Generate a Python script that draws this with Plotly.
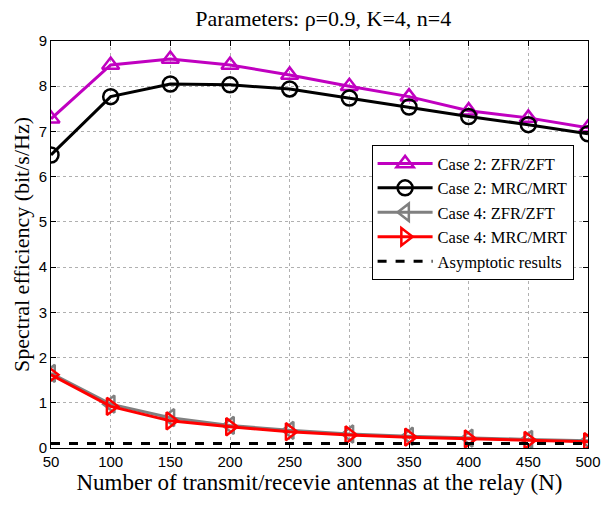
import plotly.graph_objects as go

N = [50, 100, 150, 200, 250, 300, 350, 400, 450, 500]
case2_zf = [7.28, 8.47, 8.6, 8.47, 8.25, 8.0, 7.77, 7.46, 7.3, 7.08]
case2_mrc = [6.48, 7.77, 8.05, 8.03, 7.94, 7.74, 7.54, 7.33, 7.15, 6.95]
case4_zf = [1.65, 0.97, 0.67, 0.5, 0.39, 0.31, 0.26, 0.22, 0.19, 0.16]
case4_mrc = [1.62, 0.92, 0.6, 0.47, 0.36, 0.29, 0.24, 0.2, 0.17, 0.14]
asym = [0.1] * len(N)

names = ["Case 2: ZFR/ZFT", "Case 2: MRC/MRT", "Case 4: ZFR/ZFT",
         "Case 4: MRC/MRT", "Asymptotic results"]
x_ticks = [50, 100, 150, 200, 250, 300, 350, 400, 450, 500]
y_ticks = [0, 1, 2, 3, 4, 5, 6, 7, 8, 9]

serif = "Liberation Serif, Times New Roman, serif"
sans = "Liberation Sans, Arial, sans-serif"

fig = go.Figure()

def add(y, name, color, symbol):
    fig.add_trace(go.Scatter(
        x=N, y=y, name=name, mode="lines+markers",
        line=dict(color=color, width=3),
        marker=dict(symbol=symbol, size=15, color=color,
                    line=dict(color=color, width=2.5)),
    ))

add(case2_zf, names[0], "#c000c0", "triangle-up-open")
add(case2_mrc, names[1], "black", "circle-open")
add(case4_zf, names[2], "#808080", "triangle-left-open")
add(case4_mrc, names[3], "red", "triangle-right-open")
fig.add_trace(go.Scatter(
    x=N, y=asym, name=names[4], mode="lines",
    line=dict(color="black", width=3, dash="dash"),
))

fig.update_layout(
    width=602, height=506,
    margin=dict(l=51, r=14, t=41, b=58, autoexpand=False),
    paper_bgcolor="white", plot_bgcolor="white",
    title=dict(text="Parameters: \u03c1=0.9, K=4, n=4", x=0.537, xanchor="center",
               y=0.964, yanchor="middle",
               font=dict(family=serif, size=22, color="black")),
    legend=dict(x=0.597, y=0.744, xanchor="left", yanchor="top",
                bgcolor="white", bordercolor="black", borderwidth=1,
                font=dict(family=serif, size=16.5, color="black"),
                tracegroupgap=0, itemwidth=55),
    showlegend=True,
)

axis_common = dict(
    showline=True, linecolor="black", linewidth=1, mirror="ticks",
    ticks="inside", ticklen=5, tickcolor="black",
    showgrid=True, gridcolor="#b0b0b0", griddash="dot", gridwidth=1,
    zeroline=False, automargin=False,
    tickfont=dict(family=sans, size=15, color="black"),
)

fig.update_xaxes(
    range=[49.999, 500.001], tickvals=x_ticks, ticklabeloverflow="allow",
    title=dict(text="Number of transmit/recevie antennas at the relay (N)",
               font=dict(family=serif, size=23, color="black"), standoff=4),
    **axis_common,
)
fig.update_yaxes(
    range=[-0.0001, 9.0001], tickvals=y_ticks,
    title=dict(text="Spectral efficiency (bit/s/Hz)",
               font=dict(family=serif, size=22, color="black"), standoff=2),
    **axis_common,
)

fig.write_html("out.html")
